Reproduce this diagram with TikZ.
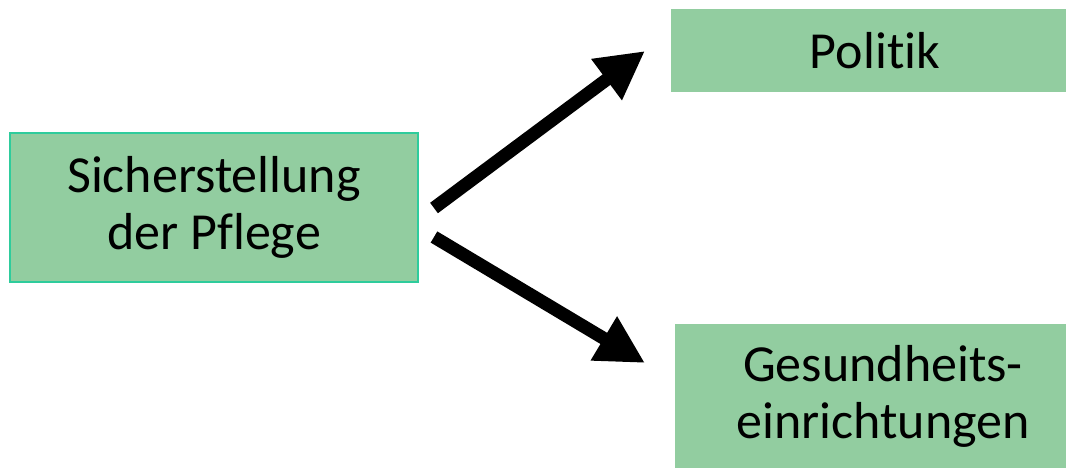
\documentclass[tikz,border=0pt]{standalone}
\usepackage{fontspec}
\setmainfont{Carlito}[Ligatures=NoCommon]
\usetikzlibrary{arrows.meta}
\definecolor{boxfill}{HTML}{92CDA0}
\definecolor{boxline}{HTML}{2ECC9C}
\tikzset{
  greenbox/.style={fill=boxfill, draw=none, inner sep=0pt, align=center,
    font=\fontsize{52}{57}\selectfont, text=black},
  bigarrow/.style={line width=13pt, -{Triangle[length=48pt,width=48pt]}, black}
}
\begin{document}
\begin{tikzpicture}[x=1pt,y=-1pt]
\useasboundingbox (0,0) rectangle (1066,468);
\node[greenbox, draw=boxline, line width=1.6pt, minimum width=408pt, minimum height=149pt] (src) at (214,207.5) {Sicherstellung\\der Pflege};
\node[greenbox, minimum width=408pt, minimum height=83pt] (pol) at (875,50.5) {Politik};
\node[greenbox, minimum width=416pt, minimum height=144pt] (ges) at (883,396) {Gesundheits-\\einrichtungen};
\coordinate (a1s) at (434,208);
\coordinate (a1e) at (645,51);
\coordinate (a2s) at (434,237);
\coordinate (a2e) at (645,363);
\draw[bigarrow] (a1s) -- (a1e);
\draw[bigarrow] (a2s) -- (a2e);
\end{tikzpicture}
\end{document}
